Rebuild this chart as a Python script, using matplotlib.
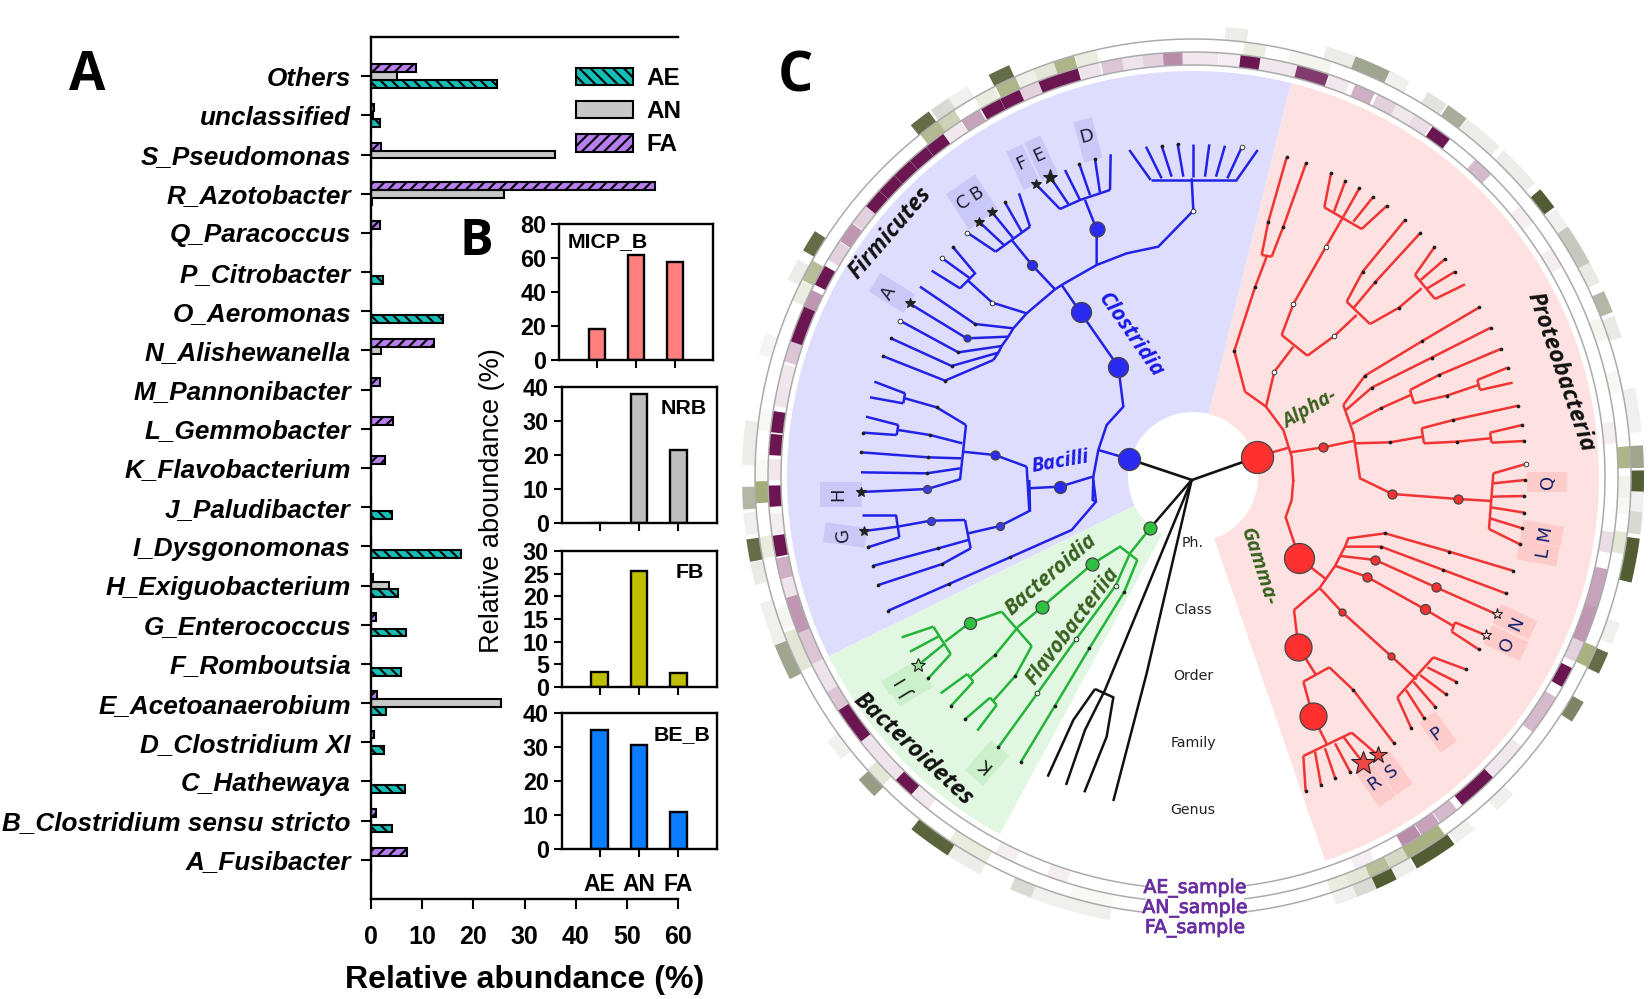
import numpy as np
import matplotlib
matplotlib.use("Agg")
import matplotlib.pyplot as plt
import matplotlib.patheffects as pe
from matplotlib.colors import LinearSegmentedColormap
from matplotlib.patches import Polygon

W, H = 1650, 999
plt.rcParams["font.family"] = ["Liberation Sans", "DejaVu Sans"]
plt.rcParams["hatch.linewidth"] = 1.5

# ---------- Panel A ----------
GENERA = ["Others", "unclassified", "S_Pseudomonas", "R_Azotobacter", "Q_Paracoccus", "P_Citrobacter",
          "O_Aeromonas", "N_Alishewanella", "M_Pannonibacter", "L_Gemmobacter", "K_Flavobacterium",
          "J_Paludibacter", "I_Dysgonomonas", "H_Exiguobacterium", "G_Enterococcus", "F_Romboutsia",
          "E_Acetoanaerobium", "D_Clostridium XI", "C_Hathewaya", "B_Clostridium sensu stricto", "A_Fusibacter"]
A_AE = [24.7, 1.7, 0, 0.2, 0, 2.3, 14.1, 0, 0, 0, 0, 4.1, 17.6, 5.2, 6.8, 5.9, 3.0, 2.6, 6.6, 4.2, 0]
A_AN = [5.0, 0.3, 36.0, 26.0, 0, 0, 0, 1.9, 0, 0, 0, 0, 0, 3.5, 0, 0, 25.4, 0, 0, 0, 0]
A_FA = [8.8, 0.5, 1.9, 55.5, 1.7, 0, 0, 12.3, 1.7, 4.3, 2.7, 0, 0, 0.4, 1.0, 0, 1.2, 0.6, 0, 1.0, 7.0]
A_XTICKS = [0, 10, 20, 30, 40, 50, 60]

# ---------- Panel B ----------
SAMPLES = ["AE", "AN", "FA"]
B_MICP = [18, 62, 57.5]
B_NRB = [0, 38, 21.5]
B_FB = [3.3, 25.5, 3.0]
B_BE = [35, 30.5, 11]

# ---------- Panel C rings: angle (deg) of every tinted cell and its strength ----------
CELL_DEG = 2.88
PURPLE_ANGLES = [92.7, 95.5, 98.3, 101.1, 104.2, 107.2, 110, 112.8, 115.6, 118.5, 121.6, 124.6, 127.5, 130.4, 133.3,
                 136.2, 139.1, 141.8, 144.8, 147.8, 151.6, 155.3, 157.8, 160.4, 162.8, 166.0, 168.9, 172.5, 175.6,
                 179, 182.6, 186.4, 189.4, 192.5, 195.4, 198.0, 200.6, 203.0, 205.5, 207.6, 209.5, 211.9, 214.8,
                 217.3, 220.0, 222.5, 225.0, 227.0, 230, 243.7, 251.3, 293.9, 301, 304, 307, 310.8, 313.6, 316.4,
                 319.2, 324.5, 327.3, 331.8, 335.6, 338.5, 341.0, 343.5, 346.0, 351.1, 6, 31.1, 38.2, 46.9, 54.2,
                 57.3, 60, 62.8, 66.1, 69.8, 72.8, 75.6, 77.2, 80.0, 82.3, 85, 88, 90]
PURPLE_VALUES = [0.5, 0.2, 0.12, 0.25, 0.12, 1, 1, 0.2, 1, 1, 0.4, 0.1, 1, 1, 1,
                 1, 1, 0.2, 0.45, 0.2, 1, 0.45, 1, 1, 0.25, 0.1, 0.12, 1, 1,
                 0.1, 1, 0.08, 1, 0.35, 0.12, 0.45, 0.45, 0.25, 0.25, 0.12, 0.12, 0.25, 1,
                 1, 0.12, 0.12, 0.12, 1, 0.1, 0.08, 0.08, 0.08, 0.5, 0.4, 0.3, 1, 1, 0.1,
                 0.1, 0.3, 0.3, 1, 0.2, 0.45, 0.45, 0.4, 0.4, 0.15, 0.08, 0.08, 0.08, 0.3, 1,
                 0.15, 0.1, 0.2, 0.35, 0.1, 0.85, 0.85, 0.1, 0.1, 1, 0.08, 0.1, 0.1]
OLIVE_ANGLES = [104.2, 107.2, 110, 112.8, 115.4, 118.5, 124.5, 127.1, 151.8, 154.8, 182, 189.3, 199, 202.3, 205,
                223.4, 237.6, 240.4, 255.1, 257.9, 289.8, 292.4, 295.3, 298.2, 300.9, 303.7, 335.7, 351.3, 356.5,
                358.7, 2.6, 12.6, 19.9, 72.9, 75.7, 81.8, 179.1, 172.5]
OLIVE_VALUES = [0.15, 0.6, 0.2, 0.12, 0.6, 0.15, 0.35, 0.55, 0.5, 0.15, 0.7, 0.15, 0.08, 0.2, 0.2,
                0.2, 0.15, 0.15, 0.05, 0.05, 0.15, 0.2, 0.5, 0.3, 0.65, 0.65, 0.65, 0.2, 0.06,
                0.1, 0.6, 0.06, 0.08, 0.08, 0.08, 0.15, 0.05, 0.05]
MOSS_ANGLES = [84.4, 71.3, 68.5, 67.4, 64.6, 62.7, 57.2, 54.1, 51.2, 48.6, 45, 42.1, 38.2, 35, 32.3, 29.5, 27, 22.9,
               19.5, 10, 7.2, 2.6, -0.6, 356.7, 354.1, 350.7, 347.9, 339.7, 335.6, 328.6, 313.8, 307.2, 304, 301.2,
               298.1, 295.4, 292.6, 289.9, 257.9, 255.1, 252.7, 249.9, 247.5, 240.4, 237.6, 235.6, 232.8, 223.6,
               217.3, 205.2, 202.4, 200.5, 197.7, 192.4, 189.4, 186, 182.7, 177, 174.2, 162.8, 152.6, 148.4, 127.3,
               124.1, 121.4, 115.5]
MOSS_VALUES = [0.1, 0.1, 0.1, 0.5, 0.5, 0.08, 0.15, 0.45, 0.1, 0.1, 0.1, 0.1, 0.95, 0.08, 0.3, 0.3, 0.12, 0.4,
               0.12, 0.08, 0.08, 0.5, 0.95, 0.08, 0.2, 0.95, 0.95, 0.08, 0.85, 0.7, 0.08, 0.08, 0.95, 0.95,
               0.1, 0.95, 0.2, 0.08, 0.08, 0.08, 0.08, 0.08, 0.2, 0.1, 0.1, 0.9, 0.9, 0.55,
               0.08, 0.5, 0.5, 0.08, 0.08, 0.12, 0.85, 0.08, 0.4, 0.1, 0.1, 0.06, 0.1, 0.85, 0.85,
               0.2, 0.08, 0.85]

# ---------- Panel C tree, read in the reference (x, y at 3x within four quadrant views) ----------
UL, UR, LL, LR = (730, 0), (1190, 0), (730, 480), (1190, 480)
BLUE_UL = [
    [(1198, 1377), (1105, 1350)],
    [(1098, 1505), (1088, 1500), (1090, 1430), (1105, 1350), (1130, 1275), (1180, 1220), (1165, 1100), (1052, 938), (995, 855)],
    [(790, 1080), (805, 1058), (815, 1038), (835, 1010), (850, 985), (890, 940), (975, 868), (1000, 852), (1100, 795),
     (1190, 760), (1285, 740), (1390, 632), (1385, 535)],
    [(1262, 540), (1520, 540)], [(1262, 540), (1198, 450)], [(1295, 535), (1248, 440)], [(1325, 530), (1295, 437)],
    [(1360, 530), (1343, 432)], [(1390, 530), (1390, 432)], [(1425, 530), (1438, 433)], [(1458, 530), (1485, 437)],
    [(1492, 535), (1535, 442)], [(1520, 540), (1583, 450)],
    [(1100, 795), (1100, 688), (1065, 600)], [(990, 627), (1050, 600), (1140, 570)], [(990, 627), (917, 552)],
    [(1015, 612), (960, 530)], [(1050, 600), (1005, 510)], [(1080, 585), (1048, 492)], [(1110, 578), (1095, 477)],
    [(1140, 570), (1142, 463)],
    [(975, 868), (907, 796), (845, 720)], [(797, 755), (900, 680)], [(797, 755), (712, 698)], [(825, 738), (748, 666)],
    [(850, 715), (785, 635)], [(875, 695), (825, 607)], [(900, 680), (867, 580)],
    [(890, 940), (787, 908), (712, 840)], [(690, 865), (735, 820), (668, 740)], [(690, 865), (605, 812)], [(720, 835), (637, 775)],
    [(850, 985), (735, 972), (570, 860)], [(835, 1010), (710, 1015), (538, 910)], [(815, 1038), (685, 1057), (510, 962)],
    [(805, 1058), (665, 1098), (483, 1015)], [(790, 1080), (645, 1142), (458, 1068)],
    [(1088, 1430), (990, 1460), (893, 1465)], [(890, 1400), (898, 1532)],
    [(890, 1400), (795, 1365), (697, 1355)], [(708, 1275), (690, 1440)],
    [(708, 1275), (620, 1222), (525, 1195)], [(525, 1180), (520, 1210)], [(525, 1180), (433, 1145)], [(520, 1210), (420, 1192)],
    [(697, 1330), (600, 1305), (505, 1290)], [(505, 1275), (500, 1305)], [(505, 1275), (408, 1250)], [(500, 1305), (400, 1298)],
    [(693, 1375), (595, 1372), (393, 1357)], [(690, 1405), (590, 1420), (393, 1417)], [(690, 1438), (592, 1467), (392, 1476)],
]
BLUE_LL = [
    [(898, 0), (900, 92), (810, 138), (715, 160)], [(705, 120), (722, 205)], [(705, 120), (602, 122), (503, 140)],
    [(498, 105), (508, 172)], [(498, 105), (397, 105)], [(503, 140), (403, 153)], [(508, 172), (413, 202)],
    [(715, 180), (625, 205), (428, 258)], [(722, 205), (637, 252), (445, 315)],
    [(1090, 0), (1098, 65), (1025, 150), (840, 232), (657, 312), (475, 392)],
]
GREEN_LL = [
    [(1260, 145), (1200, 220)], [(1222, 240), (1170, 200), (1087, 252), (935, 382), (865, 440)], [(815, 395), (905, 498)],
    [(815, 395), (720, 428), (645, 485)], [(610, 440), (662, 522)], [(610, 440), (515, 472)], [(628, 468), (540, 515)],
    [(645, 490), (565, 555)], [(662, 522), (595, 595)],
    [(865, 440), (795, 525), (722, 590)], [(712, 582), (730, 605)], [(712, 582), (632, 640)], [(730, 605), (663, 678)],
    [(905, 498), (856, 588), (790, 662)], [(780, 653), (800, 675)], [(780, 653), (705, 718)], [(800, 675), (742, 752)],
    [(1222, 240), (1183, 335), (1078, 505), (975, 677), (872, 847)], [(1200, 220), (1157, 317), (1038, 478), (922, 640), (805, 802)],
]
RED_UR = [
    [(200, 1370), (300, 1342)],
    [(165, 1175), (228, 1220), (280, 1290), (305, 1370), (310, 1445)],
    [(165, 1175), (133, 1052), (195, 862), (230, 770)], [(215, 765), (245, 770)], [(215, 765), (235, 665), (290, 472)], [(245, 770), (280, 680), (348, 490)],
    [(228, 1220), (253, 1115), (310, 1040)], [(275, 1005), (352, 1067)], [(275, 1005), (310, 912), (408, 740), (460, 650)],
    [(403, 622), (515, 687)], [(403, 622), (423, 520)], [(432, 635), (466, 543)], [(460, 650), (508, 565)], [(490, 665), (550, 590)], [(515, 687), (590, 618)],
    [(352, 1067), (433, 1008), (500, 945)], [(470, 905), (540, 972)], [(470, 905), (518, 815), (645, 660)], [(490, 925), (555, 847), (690, 700)],
    [(540, 972), (627, 923), (695, 865)], [(675, 825), (735, 897)], [(675, 825), (733, 742)], [(692, 840), (765, 777)], [(712, 865), (795, 815)], [(735, 897), (825, 853)],
    [(300, 1357), (400, 1342), (495, 1322)], [(460, 1215), (490, 1300), (510, 1435), (607, 1482), (805, 1497), (905, 1503)],
    [(460, 1215), (525, 1127), (697, 1023), (868, 922)], [(468, 1230), (545, 1163), (725, 1073), (902, 983)],
    [(485, 1272), (572, 1225), (662, 1185)], [(660, 1170), (672, 1210)], [(660, 1170), (747, 1125), (932, 1047)], [(672, 1210), (770, 1187), (865, 1155)],
    [(862, 1140), (870, 1170)], [(862, 1140), (953, 1103)], [(870, 1170), (968, 1148)],
    [(495, 1330), (600, 1327), (697, 1310)], [(695, 1285), (702, 1330)], [(695, 1285), (790, 1260), (985, 1217)], [(702, 1330), (800, 1325), (900, 1315)],
    [(900, 1298), (905, 1328)], [(900, 1298), (997, 1275)], [(905, 1328), (1003, 1323)],
    [(910, 1420), (897, 1587)], [(910, 1420), (1007, 1392)], [(910, 1450), (1005, 1440)],
]
RED_LR = [
    [(310, 0), (305, 60), (287, 112), (328, 235), (405, 295)], [(907, 50), (1003, 48)], [(903, 82), (1003, 98)], [(900, 115), (997, 145)], [(897, 147), (990, 193)],
    [(312, 390), (388, 325), (435, 258), (465, 200), (475, 175), (585, 160), (778, 215), (968, 272)],
    [(465, 200), (573, 200), (760, 270), (947, 340)], [(452, 228), (556, 240), (738, 322), (920, 403)],
    [(437, 258), (530, 290), (705, 388), (790, 438)], [(795, 427), (785, 455)], [(795, 427), (888, 466)], [(785, 455), (866, 508)],
    [(390, 325), (455, 395), (603, 528), (680, 598)], [(730, 532), (622, 652)], [(730, 532), (827, 568)], [(712, 562), (798, 605)],
    [(690, 585), (768, 643)], [(670, 605), (735, 680)], [(648, 630), (702, 714)], [(622, 652), (663, 743)],
    [(312, 390), (325, 500), (378, 585)], [(340, 605), (418, 562)], [(418, 562), (490, 630), (612, 790)], [(340, 605), (368, 707), (412, 795)],
    [(340, 828), (485, 758)], [(340, 828), (347, 933)], [(375, 815), (393, 915)], [(405, 805), (435, 893)], [(435, 790), (480, 875)], [(460, 770), (520, 850)], [(485, 758), (563, 825)],
]
BLACK_LL = [
    [(1385, 0), (1260, 145)], [(1385, 0), (1125, 630), (1065, 750), (1008, 915)], [(1385, 0), (1250, 580), (1150, 963)],
    [(1095, 627), (1150, 652), (1130, 770), (1063, 937)], [(1095, 627), (1030, 720), (953, 890)],
]
BLACK_TO_ROOTS = [[(1192, 480), (1129, 459)], [(1192, 480), (1257, 457)]]

BLUE_BIG_UL = [(1198, 1377, 11), (1165, 1102, 10), (1052, 937, 10), (1100, 688, 7.5), (907, 796, 5), (710, 1015, 3.5), (795, 1365, 4.5), (990, 1460, 6)]
BLUE_BIG_LL = [(592, 27, 4), (602, 122, 4), (810, 138, 4)]
BLUE_OPEN_UL = [(787, 908), (712, 698), (1390, 632), (1535, 442), (510, 962), (637, 775)]
BLUE_DOT_UL = [(735, 972), (685, 1057), (665, 1098), (645, 1142), (483, 1015), (458, 1068), (668, 740), (825, 607), (1048, 492), (1095, 477),
               (620, 1222), (600, 1305), (595, 1372), (590, 1420), (400, 1298), (393, 1357), (1295, 437), (1343, 432)]
BLUE_DOT_LL = [(625, 205), (637, 252), (428, 258), (445, 315), (840, 232), (657, 312), (475, 392), (413, 202)]
BLUE_STAR_UL = [(540, 910, 7), (748, 666, 7), (785, 635, 7), (917, 552, 7), (960, 530, 11), (392, 1476, 7)]
BLUE_STAR_LL = [(403, 153, 7)]
GREEN_BIG_LL = [(1260, 145, 6.5), (1087, 252, 6.5), (935, 382, 6.5), (720, 428, 6)]
GREEN_OPEN_LL = [(1157, 317), (1038, 478), (922, 640)]
GREEN_DOT_LL = [(595, 595), (795, 525), (856, 588), (1183, 335), (1078, 505), (975, 677), (872, 847), (805, 802), (663, 678), (705, 718)]
RED_BIG_UR = [(200, 1370, 16), (400, 1342, 4.5), (607, 1482, 4.5), (805, 1497, 4.5)]
RED_OPEN_UR = [(253, 1115), (310, 912), (408, 740), (433, 1008), (1007, 1392)]
RED_DOT_UR = [(133, 1052), (195, 862), (235, 665), (280, 680), (290, 472), (348, 490), (423, 520), (466, 543), (508, 565), (550, 590), (590, 618),
              (518, 815), (555, 847), (627, 923), (645, 660), (690, 700), (733, 742), (765, 777), (795, 815), (525, 1127), (697, 1023), (868, 922),
              (545, 1163), (725, 1073), (902, 983), (572, 1225), (747, 1125), (932, 1047), (770, 1187), (790, 1260), (985, 1217), (600, 1327),
              (800, 1325), (953, 1103), (1003, 1323), (997, 1275), (1005, 1440)]
RED_BIG_LR = [(328, 235, 15), (325, 500, 13.5), (368, 707, 13.5), (556, 240, 4.5), (738, 322, 4.5), (530, 290, 4.5), (705, 388, 5), (455, 395, 3.5), (603, 528, 3.5)]
RED_DOT_LR = [(585, 160), (778, 215), (968, 272), (573, 200), (760, 270), (947, 340), (866, 508), (827, 568), (798, 605), (768, 643), (735, 680), (702, 714),
              (663, 743), (490, 630), (612, 790), (347, 933), (393, 915), (435, 893), (480, 875), (1003, 48), (1003, 98), (997, 145), (990, 193)]
RED_STAR_LR = [(520, 850, 18), (563, 825, 13)]
RED_OPENSTAR_LR = [(920, 403), (888, 466)]

# ---------- Panel C labels: letter, letter x/y, box x/y, box axis angle, box length, box width, letter rotation ----------
BLUE_BOXES = [("A", 889, 293, 892, 293, 148, 41, 22, 59), ("B", 977, 193, 979, 197, 123, 42, 18, 33), ("C", 964, 202, 965, 207, 123, 42, 18, 33),
              ("E", 1039, 155, 1041, 158, 115, 42, 18, 25), ("F", 1022, 163, 1023, 167, 115, 42, 18, 25), ("D", 1087, 136, 1088, 140, 105, 42, 19, 15),
              ("H", 838, 494, 841, 494, 180, 42, 25, 90), ("G", 843, 535, 845, 535, 172, 42, 20, 97)]
GREEN_BOXES = [("I", 900, 679, 902, 678, 211, 39, 16, 121), ("J", 908, 693, 912, 690, 211, 39, 16, 121), ("K", 985, 765, 987, 763, 229, 40, 24, 139)]
RED_BOXES = [("Q", 1548, 482, 1547, 482, 0, 40, 20, 90), ("M", 1545, 533, 1542, 533, -10, 41, 20, 80), ("L", 1542, 552, 1538, 553, -10, 41, 20, 80),
             ("N", 1517, 624, 1515, 622, -25, 40, 21, 65), ("O", 1507, 644, 1506, 643, -25, 40, 21, 65), ("P", 1437, 734, 1438, 732, -54, 37, 20, 36),
             ("R", 1375, 783, 1376, 785, -55, 40, 20, 35), ("S", 1392, 772, 1393, 773, -55, 40, 20, 35)]
RANKS = ["Ph.", "Class", "Order", "Family", "Genus"]
RANK_Y = [543, 610, 676, 743, 810]
SAMPLE_LABELS = ["AE_sample", "AN_sample", "FA_sample"]
SAMPLE_Y = [888, 908, 928]


def rect(l, t, r, b):
    return [l / W, 1 - b / H, (r - l) / W, (b - t) / H]


fig = plt.figure(figsize=(W / 100, H / 100), dpi=100, facecolor="white")

# ---------- rings and sectors on polar axes ----------
CX, CY, RMAX = 1193, 477, 460
pol = fig.add_axes(rect(CX - RMAX, CY - RMAX, CX + RMAX, CY + RMAX), projection="polar", zorder=1)
pol.set_ylim(0, RMAX)
pol.axis("off")
pol.patch.set_alpha(0)
for a0, a1, col in [(76, 206.2, "#DFDDFD"), (-71, 76, "#FEE1E1"), (206.2, 241.6, "#E2F7E2")]:
    pol.bar(np.radians((a0 + a1) / 2), 341, width=np.radians(a1 - a0), bottom=65, color=col, linewidth=0)
purple = LinearSegmentedColormap.from_list("p", ["#FFFFFF", "#B98CAA", "#6B1650"])
olive = LinearSegmentedColormap.from_list("o", ["#FFFFFF", "#B8BE98", "#85924A"])
moss = LinearSegmentedColormap.from_list("m", ["#FFFFFF", "#A0A590", "#4A5529"])
for angs, vals, cm, r0 in [(PURPLE_ANGLES, PURPLE_VALUES, purple, 412), (OLIVE_ANGLES, OLIVE_VALUES, olive, 425), (MOSS_ANGLES, MOSS_VALUES, moss, 438)]:
    pol.bar(np.radians(angs), 13, width=np.radians(CELL_DEG), bottom=r0, color=cm(np.array(vals)), linewidth=0)
arc = np.radians(np.linspace(-83, 263.5, 500))
for r in (412, 425, 438):
    pol.plot(arc, np.full_like(arc, r), color="#ABABAB", lw=1.1)

# ---------- tree on a pixel-scaled overlay ----------
ov = fig.add_axes([0, 0, 1, 1], zorder=2)
ov.set_xlim(0, W)
ov.set_ylim(H, 0)
ov.axis("off")
ov.patch.set_alpha(0)


def pt(p, o):
    return o[0] + p[0] / 3, o[1] + p[1] / 3


def edges(lst, o, col):
    for e in lst:
        xy = np.array([pt(p, o) for p in e])
        ov.plot(xy[:, 0], xy[:, 1], color=col, lw=1.8, solid_capstyle="butt", solid_joinstyle="miter", zorder=3)


def bigs(lst, o, col):
    for x, y, r in lst:
        px, py = pt((x, y), o)
        ov.plot(px, py, "o", ms=2 * r * 0.72, mfc=col, mec="#444444", mew=0.9, zorder=5)


def dots(lst, o, mfc="#151515", ms=2.1):
    for p in lst:
        px, py = pt(p, o)
        ov.plot(px, py, "o", ms=ms, mfc=mfc, mec="#222222", mew=0.6, zorder=5)


def stars(lst, o, mfc="#222222"):
    for x, y, s in lst:
        px, py = pt((x, y), o)
        ov.plot(px, py, "*", ms=s, mfc=mfc, mec="#222222", mew=0.8, zorder=6)


BLUE, RED, GREEN = "#2222E6", "#F03434", "#25B43A"
edges(BLUE_UL, UL, BLUE)
edges(BLUE_LL, LL, BLUE)
edges(GREEN_LL, LL, GREEN)
edges(RED_UR, UR, RED)
edges(RED_LR, LR, RED)
edges(BLACK_LL, LL, "#111111")
for e in BLACK_TO_ROOTS:
    ov.plot(*zip(*e), color="#111111", lw=1.9, zorder=3)

bigs(BLUE_BIG_UL, UL, "#2A2AF2")
bigs(BLUE_BIG_LL, LL, "#3A3AE8")
dots(BLUE_OPEN_UL, UL, mfc="white", ms=3.4)
dots(BLUE_DOT_UL, UL)
dots(BLUE_DOT_LL, LL)
stars(BLUE_STAR_UL, UL)
stars(BLUE_STAR_LL, LL)
bigs(GREEN_BIG_LL, LL, "#30C040")
dots(GREEN_OPEN_LL, LL, mfc="#D8F5D8", ms=3.4)
dots(GREEN_DOT_LL, LL)
bigs(RED_BIG_UR, UR, "#FF3030")
dots(RED_OPEN_UR, UR, mfc="white", ms=3.4)
dots(RED_DOT_UR, UR)
bigs(RED_BIG_LR, LR, "#FF3030")
dots(RED_DOT_LR, LR)
stars(RED_STAR_LR, LR, mfc="#F04545")
stars([(565, 555, 10)], LL, mfc="#9CE39C")
stars([(x, y, 8) for x, y in RED_OPENSTAR_LR], LR, mfc="#FFD0D0")


def boxes(lst, fc, tc):
    for ch, lx, ly, bx, by, ang, ln, wd, rot in lst:
        a = np.radians(ang)
        u = np.array([np.cos(a), -np.sin(a)]) * ln / 2
        v = np.array([np.sin(a), np.cos(a)]) * wd / 2
        c = np.array([bx, by])
        ov.add_patch(Polygon([c - u - v, c + u - v, c + u + v, c - u + v], fc=fc, ec="none", zorder=2, alpha=0.85))
        ov.text(lx, ly, ch, rotation=rot, rotation_mode="anchor", ha="center", va="center", fontsize=13,
                family="DejaVu Sans", color=tc, zorder=7)


boxes(BLUE_BOXES, "#C6C5F7", "#1C1C30")
boxes(GREEN_BOXES, "#C7EFC7", "#111A11")
boxes(RED_BOXES, "#FFC8C8", "#14206A")

for s, y in zip(RANKS, RANK_Y):
    ov.text(CX, y, s, ha="center", va="center", fontsize=10.2, family="DejaVu Sans", color="#222222")
for s, y in zip(SAMPLE_LABELS, SAMPLE_Y):
    ov.text(1195, y, s, ha="center", va="center", fontsize=13.6, family="DejaVu Sans", color="#6A2FA0",
            path_effects=[pe.withStroke(linewidth=0.6, foreground="#6A2FA0")])

big = dict(ha="center", va="center", family="Open Sans", rotation_mode="anchor", zorder=8)
ov.text(890, 233, "Firmicutes", rotation=49, fontsize=16.5, style="italic", weight="bold", color="#111111", **big)
ov.text(1130, 335, "Clostridia", rotation=-55, fontsize=15.5, style="italic", weight="bold", color="#1A1AE6", **big)
ov.text(1060, 462, "Bacilli", rotation=10, fontsize=14.5, style="italic", weight="bold", color="#1A1AE6", **big)
ov.text(1560, 372, "Proteobacteria", rotation=-71, fontsize=17, style="italic", weight="bold", color="#111111", **big)
ov.text(1310, 410, "Alpha-", rotation=30, fontsize=14, style="italic", weight="bold", color="#38601F", **big)
ov.text(1258, 567, "Gamma-", rotation=-72, fontsize=14.5, style="italic", weight="bold", color="#38601F", **big)
ov.text(1051, 575, "Bacteroidia", rotation=40.6, fontsize=15, style="italic", weight="bold", color="#38601F", **big)
ov.text(1073, 626, "Flavobacteriia", rotation=53, fontsize=15, style="italic", weight="bold", color="#38601F", **big)
ov.text(913, 749, "Bacteroidetes", rotation=-43, fontsize=17, style="italic", weight="bold", color="#111111", **big)

for s, x, y, fs in [("A", 87, 76, 38), ("B", 476, 242, 36), ("C", 795, 77, 40)]:
    ov.text(x, y, s, ha="center", va="center", fontsize=fs, weight="bold", family="Open Sans", color="black", zorder=8)

# ---------- Panel A ----------
axA = fig.add_axes(rect(371, 37, 678, 899), zorder=3)
axA.patch.set_alpha(0)
y = np.arange(len(GENERA))
style = dict(height=0.2, edgecolor="black", linewidth=1.5)
axA.barh(y + 0.2, A_AE, color="#14BDB5", hatch="\\\\\\", label="AE", **style)
axA.barh(y, A_AN, color="#C8C8C8", label="AN", **style)
axA.barh(y - 0.2, A_FA, color="#B67EEE", hatch="///", label="FA", **style)
axA.set_ylim(len(GENERA), -1)
axA.set_xlim(0, 60)
axA.set_xticks(A_XTICKS)
axA.set_yticks(y)
axA.set_yticklabels(GENERA, fontsize=18.8, weight="bold", style="italic")
axA.tick_params(axis="y", length=7.5, width=1.5, pad=7)
axA.tick_params(axis="x", length=7, width=1.5, pad=12, labelsize=18)
for t in axA.get_xticklabels():
    t.set_fontweight("bold")
axA.spines["right"].set_visible(False)
for s in ("left", "top", "bottom"):
    axA.spines[s].set_linewidth(1.7)
axA.set_xlabel("Relative abundance (%)", fontsize=23, weight="bold", labelpad=11)
axA.legend(loc="upper left", bbox_to_anchor=((576 - 371) / 307, 1 - (67 - 37) / 862), frameon=False,
           handlelength=2.36, handleheight=0.72, handletextpad=0.55, labelspacing=0.42, borderpad=0, borderaxespad=0,
           prop={"weight": "bold", "size": 17.5})

# ---------- Panel B ----------
panels = [((559, 224, 713, 360), B_MICP, "#FF7F7F", (0, 80), [0, 20, 40, 60, 80], "MICP_B", 608, 242),
          ((561.5, 387, 716.5, 523), B_NRB, "#BEBEBE", (0, 40), [0, 10, 20, 30, 40], "NRB", 684, 408),
          ((561.5, 551, 716.5, 687), B_FB, "#BFBF00", (0, 30), [0, 5, 10, 15, 20, 25, 30], "FB", 690, 573),
          ((561.5, 713, 716.5, 849), B_BE, "#0A7CFF", (0, 40), [0, 10, 20, 30, 40], "BE_B", 682, 735)]
xs = np.arange(3)
for i, (r, vals, col, yl, yt, name, tx, ty) in enumerate(panels):
    ax = fig.add_axes(rect(*r), zorder=4)
    ax.bar(xs, vals, width=0.42, color=col, edgecolor="black", linewidth=1.7)
    ax.set_xlim(-0.97, 2.97)
    ax.set_ylim(*yl)
    ax.set_yticks(yt)
    ax.set_xticks(xs)
    ax.tick_params(axis="y", length=6, width=1.5, pad=3, labelsize=16.8)
    ax.tick_params(axis="x", length=6, width=1.5, pad=11, labelsize=16.5)
    for t in ax.get_yticklabels():
        t.set_fontweight("bold")
    if i == 3:
        ax.set_xticklabels(SAMPLES, fontweight="bold")
    else:
        ax.set_xticklabels([])
    for s in ax.spines.values():
        s.set_linewidth(1.7)
    fig.text(tx / W, 1 - ty / H, name, ha="center", va="center", fontsize=15.4, weight="bold", zorder=9)

fig.text(492 / W, 1 - 501 / H, "Relative aboundance (%)", rotation=90, ha="center", va="center", fontsize=19.5, zorder=9)
fig.savefig("out.png", dpi=100, facecolor="white")
